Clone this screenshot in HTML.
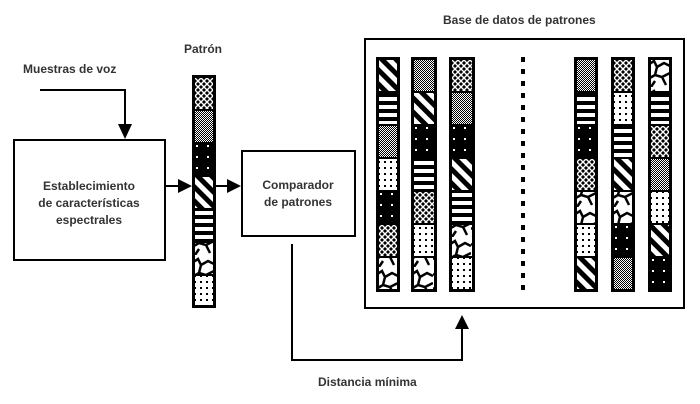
<!DOCTYPE html>
<html><head><meta charset="utf-8"><style>
html,body{margin:0;padding:0;background:#fff}
svg{display:block}
text{font-family:"Liberation Sans",sans-serif;font-weight:bold;fill:#333;font-size:12px}
</style></head><body>
<svg width="700" height="404" viewBox="0 0 700 404" xmlns="http://www.w3.org/2000/svg">
<defs>
<pattern id="d" width="10" height="10" patternUnits="userSpaceOnUse" patternTransform="rotate(-45)"><rect width="10" height="10" fill="#fff"/><rect width="5" height="10" fill="#000"/></pattern>
<pattern id="h" width="8" height="8" patternUnits="userSpaceOnUse"><rect width="8" height="8" fill="#fff"/><rect y="4" width="8" height="4" fill="#000"/></pattern>
<pattern id="f" width="2" height="2" patternUnits="userSpaceOnUse"><rect width="2" height="2" fill="#fff"/><rect width="1" height="1" fill="#000"/><rect x="1" y="1" width="1" height="1" fill="#000"/></pattern>
<pattern id="w" width="6" height="6" patternUnits="userSpaceOnUse"><rect width="6" height="6" fill="#fff"/><rect x="2" y="2" width="2" height="2" fill="#000"/></pattern>
<pattern id="b" width="11" height="11" patternUnits="userSpaceOnUse"><rect width="11" height="11" fill="#000"/><rect x="4" y="4" width="2" height="2" fill="#fff"/></pattern>
<pattern id="x" width="6" height="6" patternUnits="userSpaceOnUse"><rect width="6" height="6" fill="#000"/><path d="M0 0L6 6M6 0L0 6" stroke="#fff" stroke-width="1.4"/></pattern>
<pattern id="c" width="22" height="30" patternUnits="userSpaceOnUse"><rect width="22" height="30" fill="#fff"/><path d="M0 8L6 4L9 10L16 6L22 9M9 10L7 18L14 20L18 28M7 18L0 22M14 20L22 16M3 30L7 24" stroke="#000" stroke-width="2.5" fill="none"/></pattern>
</defs>

<text x="23" y="73">Muestras de voz</text>
<text x="184" y="53">Patrón</text>
<text x="443" y="24">Base de datos de patrones</text>
<text x="318" y="386">Distancia mínima</text>

<rect x="14" y="140" width="151" height="120" fill="none" stroke="#000" stroke-width="2"/>
<text x="89" y="190" text-anchor="middle">Establecimiento</text>
<text x="89" y="207" text-anchor="middle">de características</text>
<text x="89" y="224" text-anchor="middle">espectrales</text>

<rect x="242" y="151" width="113" height="85" fill="none" stroke="#000" stroke-width="2"/>
<text x="298" y="189" text-anchor="middle">Comparador</text>
<text x="298" y="206" text-anchor="middle">de patrones</text>

<rect x="365" y="39" width="319" height="269" fill="none" stroke="#000" stroke-width="2"/>

<path d="M40 90H125V128" fill="none" stroke="#000" stroke-width="2"/>
<path d="M118 124L132 124L125 139Z" fill="#000"/>
<path d="M165 186H180" stroke="#000" stroke-width="2"/>
<path d="M178 179L192 186L178 193Z" fill="#000"/>
<path d="M216 186H228" stroke="#000" stroke-width="2"/>
<path d="M227 179L241 186L227 193Z" fill="#000"/>
<path d="M292 244V360H462V326" fill="none" stroke="#000" stroke-width="2"/>
<path d="M455 329L469 329L462 315Z" fill="#000"/>
<line x1="523" y1="57" x2="523" y2="290" stroke="#000" stroke-width="4" stroke-dasharray="5 7"/>

<g transform="translate(192,75)"><rect width="24" height="233" fill="#000"/>
<rect x="3" y="3" width="18" height="31" fill="url(#x)"/><rect x="3" y="36" width="18" height="31" fill="url(#f)"/><rect x="3" y="69" width="18" height="31" fill="url(#b)"/><rect x="3" y="102" width="18" height="31" fill="url(#d)"/><rect x="3" y="135" width="18" height="31" fill="url(#h)"/><rect x="3" y="168" width="18" height="31" fill="url(#c)"/><rect x="3" y="201" width="18" height="29" fill="url(#w)"/></g>

<g transform="translate(376,57)"><rect width="24" height="235" fill="#000"/>
<rect x="3" y="3" width="18" height="31" fill="url(#d)"/><rect x="3" y="36" width="18" height="31" fill="url(#h)"/><rect x="3" y="69" width="18" height="31" fill="url(#f)"/><rect x="3" y="102" width="18" height="31" fill="url(#w)"/><rect x="3" y="135" width="18" height="31" fill="url(#b)"/><rect x="3" y="168" width="18" height="31" fill="url(#x)"/><rect x="3" y="201" width="18" height="31" fill="url(#c)"/></g>
<g transform="translate(411,57)"><rect width="26" height="235" fill="#000"/>
<rect x="3" y="3" width="20" height="31" fill="url(#f)"/><rect x="3" y="36" width="20" height="31" fill="url(#d)"/><rect x="3" y="69" width="20" height="31" fill="url(#b)"/><rect x="3" y="102" width="20" height="31" fill="url(#h)"/><rect x="3" y="135" width="20" height="31" fill="url(#x)"/><rect x="3" y="168" width="20" height="31" fill="url(#w)"/><rect x="3" y="201" width="20" height="31" fill="url(#c)"/></g>
<g transform="translate(449,57)"><rect width="26" height="235" fill="#000"/>
<rect x="3" y="3" width="20" height="31" fill="url(#x)"/><rect x="3" y="36" width="20" height="31" fill="url(#f)"/><rect x="3" y="69" width="20" height="31" fill="url(#b)"/><rect x="3" y="102" width="20" height="31" fill="url(#d)"/><rect x="3" y="135" width="20" height="31" fill="url(#h)"/><rect x="3" y="168" width="20" height="31" fill="url(#c)"/><rect x="3" y="201" width="20" height="31" fill="url(#w)"/></g>
<g transform="translate(574,57)"><rect width="24" height="235" fill="#000"/>
<rect x="3" y="3" width="18" height="31" fill="url(#f)"/><rect x="3" y="36" width="18" height="31" fill="url(#h)"/><rect x="3" y="69" width="18" height="31" fill="url(#b)"/><rect x="3" y="102" width="18" height="31" fill="url(#x)"/><rect x="3" y="135" width="18" height="31" fill="url(#c)"/><rect x="3" y="168" width="18" height="31" fill="url(#w)"/><rect x="3" y="201" width="18" height="31" fill="url(#d)"/></g>
<g transform="translate(611,57)"><rect width="24" height="235" fill="#000"/>
<rect x="3" y="3" width="18" height="31" fill="url(#x)"/><rect x="3" y="36" width="18" height="31" fill="url(#w)"/><rect x="3" y="69" width="18" height="31" fill="url(#h)"/><rect x="3" y="102" width="18" height="31" fill="url(#d)"/><rect x="3" y="135" width="18" height="31" fill="url(#c)"/><rect x="3" y="168" width="18" height="31" fill="url(#b)"/><rect x="3" y="201" width="18" height="31" fill="url(#f)"/></g>
<g transform="translate(648,57)"><rect width="24" height="235" fill="#000"/>
<rect x="3" y="3" width="18" height="31" fill="url(#c)"/><rect x="3" y="36" width="18" height="31" fill="url(#h)"/><rect x="3" y="69" width="18" height="31" fill="url(#x)"/><rect x="3" y="102" width="18" height="31" fill="url(#f)"/><rect x="3" y="135" width="18" height="31" fill="url(#w)"/><rect x="3" y="168" width="18" height="31" fill="url(#d)"/><rect x="3" y="201" width="18" height="31" fill="url(#b)"/></g>
</svg>
</body></html>
